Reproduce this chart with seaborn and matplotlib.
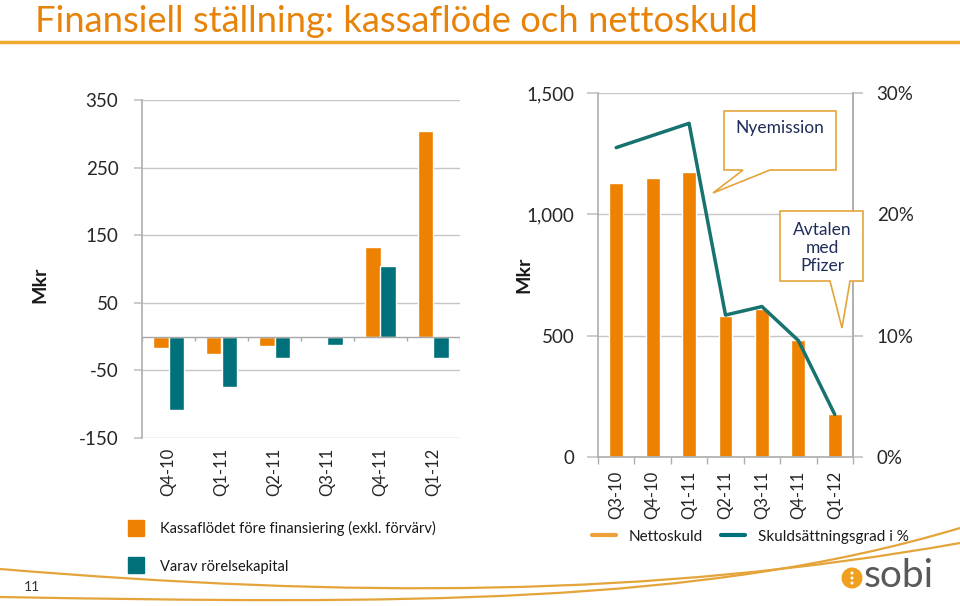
import numpy as np
import pandas as pd
import matplotlib
matplotlib.use("Agg")
import matplotlib.pyplot as plt
import matplotlib.ticker as ticker
from matplotlib.lines import Line2D
from matplotlib.patches import Polygon, Ellipse, PathPatch
from matplotlib.path import Path
import seaborn as sns

# --- data -------------------------------------------------------------
quarters_cf = ["Q4-10", "Q1-11", "Q2-11", "Q3-11", "Q4-11", "Q1-12"]
cashflow = [-17, -26, -14, -2.5, 132, 304]          # Kassaflödet före finansiering
working_cap = [-108, -75, -32, -13, 105, -32]       # Varav rörelsekapital

quarters_nd = ["Q3-10", "Q4-10", "Q1-11", "Q2-11", "Q3-11", "Q4-11", "Q1-12"]
net_debt = [1130, 1148, 1176, 582, 611, 481, 176]   # Nettoskuld, Mkr
gearing = [0.255, 0.265, 0.275, 0.117, 0.124, 0.096, 0.035]  # Skuldsättningsgrad

cf_labels = ["Kassaflödet före finansiering (exkl. förvärv)", "Varav rörelsekapital"]
nd_labels = ["Nettoskuld", "Skuldsättningsgrad i %"]

# --- style -------------------------------------------------------------
ORANGE = "#EE8100"
TEAL = "#00717A"
LINE_TEAL = "#17736F"
GRID = "#c6c6c6"
SPINE = "#b0b0b0"
GOLD = "#E4A43A"

sns.set_theme(style="white")
plt.rcParams["font.family"] = ["Lato", "DejaVu Sans"]
plt.rcParams["text.color"] = "#1a1a1a"
plt.rcParams["axes.unicode_minus"] = False

W, H = 960, 606
fig = plt.figure(figsize=(W / 100, H / 100), dpi=100)


def px(x, y):
    return (x / W, 1 - y / H)


# --- left chart: cash flow --------------------------------------------
df_cf = pd.DataFrame({
    "kvartal": quarters_cf * 2,
    "mkr": cashflow + working_cap,
    "serie": [cf_labels[0]] * len(quarters_cf) + [cf_labels[1]] * len(quarters_cf),
})

ax1 = fig.add_axes([142 / W, (H - 438) / H, 318 / W, 338 / H])
sns.barplot(data=df_cf, x="kvartal", y="mkr", hue="serie",
            palette=[ORANGE, TEAL], saturation=1, width=0.57,
            legend=False, ax=ax1)
ax1.set_ylim(-150, 350)
ax1.set_xlim(-0.5, len(quarters_cf) - 0.5)
ax1.set_yticks([350, 250, 150, 50, -50, -150])
ax1.yaxis.grid(True, color=GRID, lw=1)
ax1.set_axisbelow(True)
for s in ["top", "right", "bottom"]:
    ax1.spines[s].set_visible(False)
ax1.spines["left"].set_color(SPINE)
ax1.axhline(0, color="#a8a8a8", lw=1, zorder=1)
ax1.vlines(np.arange(len(quarters_cf) + 1) - 0.5, -7, 0, color="#a8a8a8", lw=1)
ax1.tick_params(axis="y", length=6, color=GRID, pad=11, labelsize=13.5, left=True)
ax1.tick_params(axis="x", length=0, pad=7, labelsize=12, labelrotation=90)
ax1.set_xlabel("")
ax1.set_ylabel("")

# --- right chart: net debt + gearing -----------------------------------
ax2 = fig.add_axes([598 / W, (H - 457) / H, 255 / W, 364 / H])
sns.barplot(x=quarters_nd, y=net_debt, color=ORANGE, saturation=1,
            width=0.38, ax=ax2)
ax2.set_ylim(0, 1500)
ax2.set_xlim(-0.5, len(quarters_nd) - 0.5)
ax2.set_yticks([0, 500, 1000, 1500])
ax2.yaxis.set_major_formatter(ticker.FuncFormatter(lambda v, p: f"{v:,.0f}"))
ax2.yaxis.grid(True, color=GRID, lw=1)
ax2.set_axisbelow(True)
ax2.spines["top"].set_visible(False)
for s in ["left", "right", "bottom"]:
    ax2.spines[s].set_color(SPINE)
ax2.set_xticks(np.arange(len(quarters_nd) + 1) - 0.5, minor=True)
ax2.tick_params(axis="x", which="minor", length=5, color=SPINE, bottom=True)
ax2.tick_params(axis="x", which="major", length=0, pad=10, labelsize=12, labelrotation=90)
ax2.tick_params(axis="y", length=8, color=GRID, pad=9, labelsize=13.5, left=True)

ax3 = ax2.twinx()
sns.lineplot(x=np.arange(len(quarters_nd)), y=gearing, color=LINE_TEAL, lw=2.5, ax=ax3)
ax3.set_ylim(0, 0.30)
ax3.set_yticks([0, 0.10, 0.20, 0.30])
ax3.yaxis.set_major_formatter(ticker.FuncFormatter(lambda v, p: f"{v * 100:.0f}%"))
for s in ["top", "left", "bottom"]:
    ax3.spines[s].set_visible(False)
ax3.spines["right"].set_color(SPINE)
ax3.tick_params(axis="y", length=7, color=GRID, pad=10, labelsize=13.5, right=True)
ax3.set_ylabel("")

# --- axis titles -------------------------------------------------------
fig.text(*px(40, 285), "Mkr", rotation=90, fontsize=14, fontweight="bold",
         ha="center", va="center")
fig.text(*px(524, 275), "Mkr", rotation=90, fontsize=14, fontweight="bold",
         ha="center", va="center")

# --- title -------------------------------------------------------------
fig.text(*px(35, 21), "Finansiell ställning: kassaflöde och nettoskuld",
         fontsize=26.2, color="#E8830A", ha="left", va="center")
fig.add_artist(Line2D([0, 1], [1 - 42 / H] * 2, color="#F0A82E", lw=2.5,
                      transform=fig.transFigure))

# --- callouts ----------------------------------------------------------
def callout(points, text, center, fs=12.5):
    poly = Polygon([px(x, y) for x, y in points], closed=True,
                   facecolor="white", edgecolor=GOLD, lw=1.2,
                   transform=fig.transFigure, zorder=10)
    fig.add_artist(poly)
    fig.text(*px(*center), text, ha="center", va="center", fontsize=fs,
             color="#1F2D5A", linespacing=1.15, zorder=11)


callout([(724, 111), (836, 111), (836, 170), (770, 170), (713, 193),
         (743, 170), (724, 170)], "Nyemission", (780, 128))
callout([(780, 211), (863, 211), (863, 281), (850, 281), (842, 328),
         (830, 281), (780, 281)], "Avtalen\nmed\nPfizer", (822, 248))

# --- legends -----------------------------------------------------------
cf_handles = [Line2D([], [], marker="s", ls="none", markersize=12,
                     markerfacecolor=c, markeredgecolor=c) for c in (ORANGE, TEAL)]
fig.legend(cf_handles, cf_labels, loc="upper left", bbox_to_anchor=px(108, 508),
           frameon=False, fontsize=10.5, labelspacing=1.6, handletextpad=0.7)

nd_handles = [Line2D([], [], color="#F0A03A", lw=3), Line2D([], [], color=TEAL, lw=3)]
fig.legend(nd_handles, nd_labels, loc="upper left", bbox_to_anchor=px(578, 516),
           frameon=False, fontsize=11, ncol=2, handlelength=1.6,
           handletextpad=0.8, columnspacing=1.2)

# --- footer decoration -------------------------------------------------
for pts in ([(0, 569), (350, 598), (650, 598), (960, 543)],
            [(0, 597), (400, 604), (700, 606), (960, 528)]):
    path = Path([px(*p) for p in pts],
                [Path.MOVETO, Path.CURVE4, Path.CURVE4, Path.CURVE4])
    fig.add_artist(PathPatch(path, facecolor="none", edgecolor=GOLD, lw=1.6,
                             transform=fig.transFigure))

fig.text(*px(32, 587), "11", fontsize=10, ha="center", va="center", color="#333333")
fig.add_artist(Ellipse(px(852, 578), 21 / W, 21 / H, facecolor="#F0A020",
                       edgecolor="none", transform=fig.transFigure))
for dy in (-5, 0, 5):
    fig.add_artist(Ellipse(px(852, 578 + dy), 3 / W, 3 / H, facecolor="white",
                           edgecolor="none", transform=fig.transFigure))
fig.text(*px(864, 576), "sobi", fontsize=28, color="#58595B", ha="left", va="center")

fig.savefig("out.png", dpi=100)
